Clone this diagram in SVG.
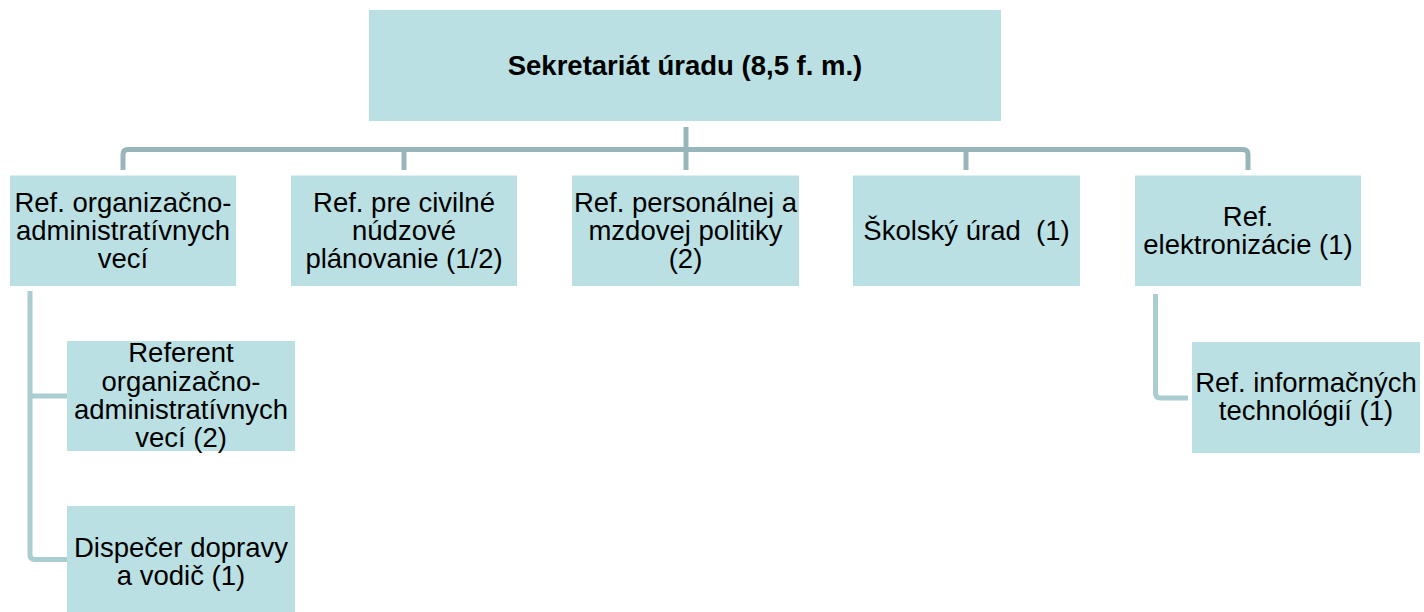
<svg xmlns="http://www.w3.org/2000/svg" width="1424" height="612" viewBox="0 0 1424 612">
<style>
.box{fill:#BBE0E3;}
.t{font-family:"Liberation Sans",Arial,sans-serif;font-size:27.5px;fill:#000;text-anchor:middle;}
.b{font-weight:bold;}
.c1{fill:none;stroke:#98B5B9;stroke-width:5;stroke-linejoin:round;}
.c2{fill:none;stroke:#A9CDD1;stroke-width:5;stroke-linejoin:round;}
</style>
<rect width="1424" height="612" fill="#fff"/>
<g id="connectors">
<path class="c1" d="M686,127 V149.5"/>
<path class="c1" d="M123,170 V154.5 Q123,149.5 128,149.5 H1243 Q1248,149.5 1248,154.5 V170"/>
<path class="c1" d="M404,149.5 V170"/>
<path class="c1" d="M686,149.5 V170"/>
<path class="c1" d="M966,149.5 V170"/>
<path class="c2" d="M30,291 V554.5 Q30,559.5 35,559.5 H67"/>
<path class="c2" d="M30,396 H67"/>
<path class="c2" d="M1155.5,294 V393 Q1155.5,398 1160.5,398 H1188"/>
</g>
<g id="n0"><rect class="box" x="369" y="10" width="632" height="111"/>
<text class="t b" x="685" y="74.5">Sekretariát úradu (8,5 f. m.)</text></g>
<g id="n1"><rect class="box" x="10" y="175.5" width="226" height="110.5"/>
<text class="t" x="123" y="211.5">Ref. organizačno-</text>
<text class="t" x="123" y="239.5">administratívnych</text>
<text class="t" x="123" y="267.5">vecí</text></g>
<g id="n2"><rect class="box" x="291" y="175.5" width="226" height="110.5"/>
<text class="t" x="404" y="211.5">Ref. pre civilné</text>
<text class="t" x="404" y="239.5">núdzové</text>
<text class="t" x="404" y="267.5">plánovanie (1/2)</text></g>
<g id="n3"><rect class="box" x="572" y="175.5" width="227" height="110.5"/>
<text class="t" x="685.5" y="211.5">Ref. personálnej a</text>
<text class="t" x="685.5" y="239.5">mzdovej politiky</text>
<text class="t" x="685.5" y="267.5">(2)</text></g>
<g id="n4"><rect class="box" x="853" y="175.5" width="227" height="110.5"/>
<text class="t" x="966.5" y="240" xml:space="preserve">Školský úrad  (1)</text></g>
<g id="n5"><rect class="box" x="1135" y="175.5" width="226" height="110.5"/>
<text class="t" x="1248" y="226">Ref.</text>
<text class="t" x="1248" y="254">elektronizácie (1)</text></g>
<g id="n6"><rect class="box" x="67" y="341" width="228" height="110"/>
<text class="t" x="181" y="362">Referent</text>
<text class="t" x="181" y="390.5">organizačno-</text>
<text class="t" x="181" y="419">administratívnych</text>
<text class="t" x="181" y="447">vecí (2)</text></g>
<g id="n7"><rect class="box" x="67" y="506" width="228" height="111"/>
<text class="t" x="181" y="557">Dispečer dopravy</text>
<text class="t" x="181" y="585">a vodič (1)</text></g>
<g id="n8"><rect class="box" x="1192" y="342" width="228" height="111"/>
<text class="t" x="1306" y="392">Ref. informačných</text>
<text class="t" x="1306" y="420">technológií (1)</text></g>
</svg>
